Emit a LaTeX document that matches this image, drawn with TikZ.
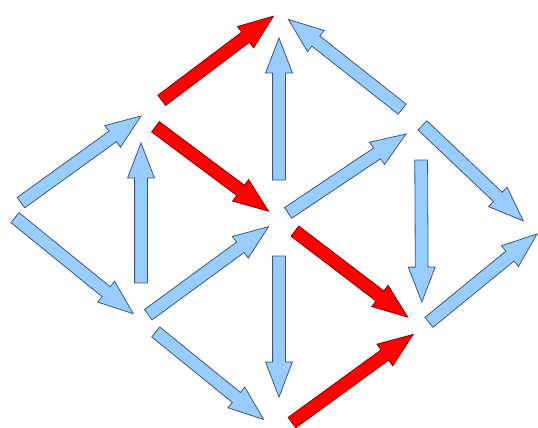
\documentclass[tikz,border=0pt]{standalone}
\usetikzlibrary{shapes.arrows, calc}

\definecolor{arrowblue}{RGB}{153,204,255}
\definecolor{blueedge}{RGB}{60,88,120}
\definecolor{rededge}{RGB}{140,0,0}

% block arrow: style, from, to, gap at tail, gap at tip
\newcommand{\blockarrow}[5]{%
  \path let \p1=($(#2)!#4!(#3)$), \p2=($(#3)!#5!(#2)$),
    \n1={atan2(\y2-\y1,\x2-\x1)}, \n2={veclen(\x2-\x1,\y2-\y1)} in
    node[#1, rotate=\n1, minimum height=\n2, anchor=tail] at (\p1) {};}

\begin{document}
\begin{tikzpicture}[
        x=1pt, y=-1pt,
        blockbase/.style={single arrow, line width=0.8pt, minimum width=26pt, single arrow head extend=7pt, single arrow tip angle=42, single arrow head indent=0pt, inner xsep=0pt, inner ysep=6pt, outer sep=0pt},
        bluearrow/.style={blockbase, draw=blueedge, fill=arrowblue},
        redarrow/.style={blockbase, draw=rededge, fill=red}
    ]
    \useasboundingbox (0,0) rectangle (538,428);

    % Lattice points
    \coordinate (A) at (8,212);
    \coordinate (B) at (141,116);
    \coordinate (C) at (141,320);
    \coordinate (D) at (279,12);
    \coordinate (E) at (279,219);
    \coordinate (F) at (279,432);
    \coordinate (G) at (421,124);
    \coordinate (H) at (422,328);
    \coordinate (I) at (537,234);

    % Blue arrows
    \blockarrow{bluearrow}{A}{B}{16pt}{0pt}
    \blockarrow{bluearrow}{A}{C}{9pt}{10pt}
    \blockarrow{bluearrow}{C}{B}{37pt}{27pt}
    \blockarrow{bluearrow}{E}{D}{39pt}{26pt}
    \blockarrow{bluearrow}{G}{D}{24pt}{12pt}
    \blockarrow{bluearrow}{E}{G}{11pt}{18pt}
    \blockarrow{bluearrow}{C}{E}{9pt}{13pt}
    \blockarrow{bluearrow}{E}{F}{37pt}{35pt}
    \blockarrow{bluearrow}{C}{F}{19pt}{20pt}
    \blockarrow{bluearrow}{G}{I}{2pt}{19pt}
    \blockarrow{bluearrow}{G}{H}{36pt}{26pt}
    \blockarrow{bluearrow}{H}{I}{9pt}{0pt}

    % Red arrows
    \blockarrow{redarrow}{B}{D}{26pt}{7pt}
    \blockarrow{redarrow}{B}{E}{18pt}{13pt}
    \blockarrow{redarrow}{E}{H}{20pt}{18pt}
    \blockarrow{redarrow}{F}{H}{16pt}{11pt}

\end{tikzpicture}
\end{document}
